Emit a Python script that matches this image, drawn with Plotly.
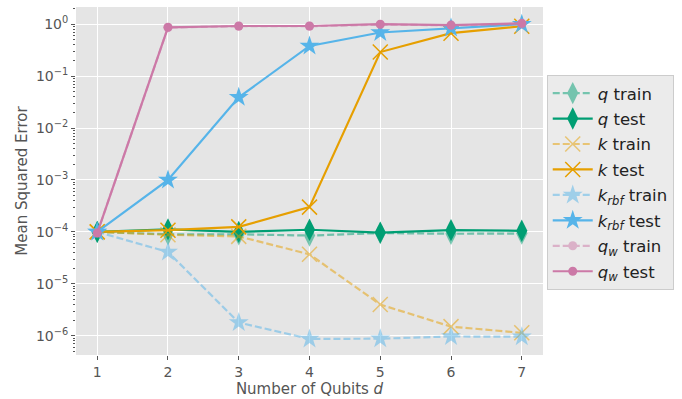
import plotly.graph_objects as go

qubits = [1, 2, 3, 4, 5, 6, 7]

q_train = [1.0e-4, 9.0e-5, 9.0e-5, 8.5e-5, 9.5e-5, 9.2e-5, 9.3e-5]
q_test = [1.0e-4, 1.12e-4, 1.0e-4, 1.1e-4, 9.7e-5, 1.08e-4, 1.05e-4]
k_train = [1.0e-4, 8.8e-5, 8.2e-5, 3.7e-5, 4.0e-6, 1.5e-6, 1.14e-6]
k_test = [1.0e-4, 1.08e-4, 1.25e-4, 3.0e-4, 0.29, 0.67, 0.91]
krbf_train = [1.0e-4, 4.1e-5, 1.8e-6, 8.7e-7, 8.8e-7, 9.7e-7, 9.6e-7]
krbf_test = [1.0e-4, 1.0e-3, 0.039, 0.38, 0.69, 0.84, 1.0]
qw_train = [9.5e-5, 0.86, 0.91, 0.91, 0.98, 0.95, 1.0]
qw_test = [9.5e-5, 0.87, 0.92, 0.92, 1.0, 0.96, 1.04]

ytick_vals = [1e-6, 1e-5, 1e-4, 1e-3, 1e-2, 1e-1, 1e0]
ytick_text = ["10<sup>−6</sup>", "10<sup>−5</sup>", "10<sup>−4</sup>", "10<sup>−3</sup>",
              "10<sup>−2</sup>", "10<sup>−1</sup>", "10<sup>0</sup>"]

GREEN = "#009E73"
ORANGE = "#E69F00"
BLUE = "#56B4E9"
PINK = "#CC79A7"

series = [
    ("<i>q</i> train", q_train, GREEN, True, "diamond-tall", 16),
    ("<i>q</i> test", q_test, GREEN, False, "diamond-tall", 16),
    ("<i>k</i> train", k_train, ORANGE, True, "x-thin-open", 15),
    ("<i>k</i> test", k_test, ORANGE, False, "x-thin-open", 15),
    ("<i>k<sub>rbf</sub></i> train", krbf_train, BLUE, True, "star", 15),
    ("<i>k<sub>rbf</sub></i> test", krbf_test, BLUE, False, "star", 15),
    ("<i>q<sub>w</sub></i> train", qw_train, PINK, True, "circle", 9),
    ("<i>q<sub>w</sub></i> test", qw_test, PINK, False, "circle", 9),
]

fig = go.Figure()
for i, (name, vals, color, is_train, sym, size) in enumerate(series):
    fig.add_trace(go.Scatter(
        x=qubits, y=vals, name=name, mode="lines+markers", legendgroup=str(i),
        line=dict(color=color, width=2.2, dash="7px,3px" if is_train else "solid"),
        marker=dict(symbol=sym, size=size, color=color,
                    line=dict(color=color, width=1.5 if sym == "x-thin-open" else 0)),
        opacity=0.5 if is_train else 1.0,
    ))

minor_vals = [m * 10 ** e for e in range(-7, 1) for m in range(2, 10)]

fig.update_layout(
    width=682, height=399,
    margin=dict(l=76, r=139, t=7, b=44),
    paper_bgcolor="white",
    plot_bgcolor="#E5E5E5",
    font=dict(family="DejaVu Sans", color="#555555", size=13),
    showlegend=True,
    legend=dict(
        x=1.008, y=0.805, xanchor="left", yanchor="top",
        bgcolor="#EBEBEB", bordercolor="#CCCCCC", borderwidth=1,
        font=dict(size=16.5, color="#222222"),
        tracegroupgap=1, itemwidth=40,
    ),
    xaxis=dict(
        range=[0.7, 7.3], tickvals=qubits, ticks="outside", ticklen=4,
        tickcolor="#555555", showgrid=True, gridcolor="white", gridwidth=1,
        zeroline=False, showline=False, automargin=False,
        title=dict(text="Number of Qubits <i>d</i>", font=dict(size=15, color="#555555"), standoff=2),
        tickfont=dict(size=14, color="#555555"),
    ),
    yaxis=dict(
        type="log", range=[-6.37, 0.33], tickvals=ytick_vals, ticktext=ytick_text,
        ticks="outside", ticklen=4, tickcolor="#555555", automargin=False,
        showgrid=True, gridcolor="white", gridwidth=1, zeroline=False, showline=False,
        minor=dict(tickvals=minor_vals, ticks="outside", ticklen=2, tickcolor="#555555", showgrid=False),
        title=dict(text="Mean Squared Error", font=dict(size=15, color="#555555"), standoff=4),
        tickfont=dict(size=14, color="#555555"),
    ),
)

fig.write_html("out.html", config={"displayModeBar": False},
               post_script="document.body.style.margin='0';")
